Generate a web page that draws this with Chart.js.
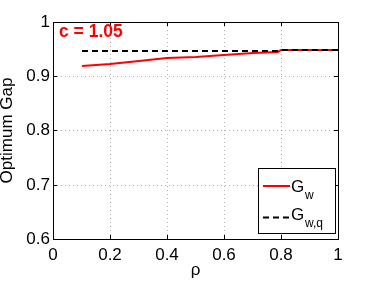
<!DOCTYPE html>
<html>
<head>
<meta charset="utf-8">
<script src="https://cdn.jsdelivr.net/npm/chart.js@4"></script>
<style>
  html, body { margin: 0; padding: 0; background: #fff; }
  canvas { display: block; }
</style>
</head>
<body>
<canvas id="gapChart" width="374" height="281"></canvas>
<script>
// datos
const rho = [0.1, 0.2, 0.3, 0.4, 0.5, 0.6, 0.7, 0.79, 0.8, 0.9, 1.0];
const gapW = [0.919, 0.923, 0.928, 0.933, 0.936, 0.940, 0.942, 0.945, 0.948, 0.948, 0.948];
const gapWq = [0.9465, 0.9465, 0.9465, 0.947, 0.947, 0.947, 0.947, 0.947, 0.9484, 0.9484, 0.9484];
const xTickLabels = ['0', '0.2', '0.4', '0.6', '0.8', '1'];
const yTickLabels = ['0.6', '0.7', '0.8', '0.9', '1'];

const FONT = "'Liberation Sans', Arial, Helvetica, sans-serif";

function toPoints(xs, ys) {
    return xs.map((x, i) => ({ x: x, y: ys[i] }));
}

// caja, marcas interiores, etiqueta c y leyenda al estilo matlab
const matlabPlugin = {
    id: 'matlabBox',
    afterDatasetsDraw(chart) {
        const ctx = chart.ctx;
        const a = chart.chartArea;
        const xs = chart.scales.x;
        const ys = chart.scales.y;
        ctx.save();
        ctx.strokeStyle = '#000';
        ctx.lineWidth = 1;
        ctx.setLineDash([]);
        ctx.beginPath();
        xs.ticks.forEach(t => {
            const px = Math.round(xs.getPixelForValue(t.value)) + 0.5;
            ctx.moveTo(px, a.bottom); ctx.lineTo(px, a.bottom - 4);
            ctx.moveTo(px, a.top); ctx.lineTo(px, a.top + 4);
        });
        ys.ticks.forEach(t => {
            const py = Math.round(ys.getPixelForValue(t.value)) + 0.5;
            ctx.moveTo(a.left, py); ctx.lineTo(a.left + 4, py);
            ctx.moveTo(a.right, py); ctx.lineTo(a.right - 4, py);
        });
        ctx.stroke();
        ctx.strokeRect(Math.round(a.left) + 0.5, Math.round(a.top) + 0.5,
            Math.round(a.right - a.left), Math.round(a.bottom - a.top));

        // c = 1.05
        ctx.fillStyle = '#ff0000';
        ctx.font = 'bold 17.5px ' + FONT;
        ctx.textAlign = 'left';
        ctx.textBaseline = 'alphabetic';
        ctx.fillText('c = 1.05', a.left + 6, a.top + 15);

        // leyenda
        const lx = a.right - 80, ly = a.bottom - 71;
        const lw = 77, lh = 65;
        ctx.fillStyle = '#fff';
        ctx.fillRect(lx, ly, lw, lh);
        ctx.strokeStyle = '#000';
        ctx.strokeRect(lx + 0.5, ly + 0.5, lw, lh);
        const entries = [
            { ds: chart.data.datasets[0], y: ly + 18, gOff: 6, subOff: 12.5, sub: 'w' },
            { ds: chart.data.datasets[1], y: ly + 49.5, gOff: 2.5, subOff: 9, sub: 'w,q' }
        ];
        entries.forEach(e => {
            ctx.strokeStyle = e.ds.borderColor;
            ctx.lineWidth = e.ds.borderWidth;
            ctx.setLineDash(e.ds.borderDash || []);
            ctx.beginPath();
            ctx.moveTo(lx + 5, e.y);
            ctx.lineTo(lx + 32, e.y);
            ctx.stroke();
            ctx.setLineDash([]);
            ctx.fillStyle = '#000';
            ctx.font = '17px ' + FONT;
            ctx.fillText('G', lx + 33, e.y + e.gOff);
            ctx.font = '12px ' + FONT;
            ctx.fillText(e.sub, lx + 47, e.y + e.subOff);
        });
        ctx.restore();
    }
};

new Chart(document.getElementById('gapChart'), {
    type: 'line',
    data: {
        datasets: [{
            label: 'G_w',
            data: toPoints(rho, gapW),
            borderColor: '#ff0000',
            borderWidth: 2,
            pointRadius: 0,
            fill: false,
            tension: 0,
            order: 1
        }, {
            label: 'G_w,q',
            data: toPoints(rho, gapWq),
            borderColor: '#000000',
            borderWidth: 2,
            borderDash: [6, 4],
            pointRadius: 0,
            fill: false,
            tension: 0,
            order: 0
        }]
    },
    options: {
        responsive: false,
        animation: false,
        events: [],
        layout: { padding: { top: 22, right: 36, left: 0, bottom: 0 } },
        plugins: {
            legend: { display: false },
            tooltip: { enabled: false }
        },
        scales: {
            x: {
                type: 'linear',
                min: 0,
                max: 1,
                alignToPixels: true,
                afterFit: s => { s.height = 42; },
                afterBuildTicks: s => {
                    s.ticks = xTickLabels.map(v => ({ value: parseFloat(v) }));
                },
                ticks: {
                    color: '#000',
                    padding: 6,
                    maxRotation: 0,
                    font: { family: FONT, size: 17 },
                    callback: (v, i) => xTickLabels[i]
                },
                grid: {
                    color: 'rgba(0,0,0,0.3)',
                    drawTicks: false
                },
                border: { display: false, dash: [1, 3] },
                title: {
                    display: true,
                    text: 'ρ',
                    color: '#000',
                    font: { family: FONT, size: 17 },
                    padding: { top: 0, bottom: 0 }
                }
            },
            y: {
                type: 'linear',
                min: 0.6,
                max: 1,
                alignToPixels: true,
                afterFit: s => { s.width = 53; },
                afterBuildTicks: s => {
                    s.ticks = yTickLabels.map(v => ({ value: parseFloat(v) }));
                },
                ticks: {
                    color: '#000',
                    padding: 3,
                    font: { family: FONT, size: 17 },
                    callback: (v, i) => yTickLabels[i]
                },
                grid: {
                    color: 'rgba(0,0,0,0.3)',
                    drawTicks: false
                },
                border: { display: false, dash: [1, 3] },
                title: {
                    display: true,
                    text: 'Optimum Gap',
                    color: '#000',
                    font: { family: FONT, size: 17, lineHeight: 1 },
                    padding: { top: -1, bottom: 0 }
                }
            }
        }
    },
    plugins: [matlabPlugin]
});
</script>
</body>
</html>
